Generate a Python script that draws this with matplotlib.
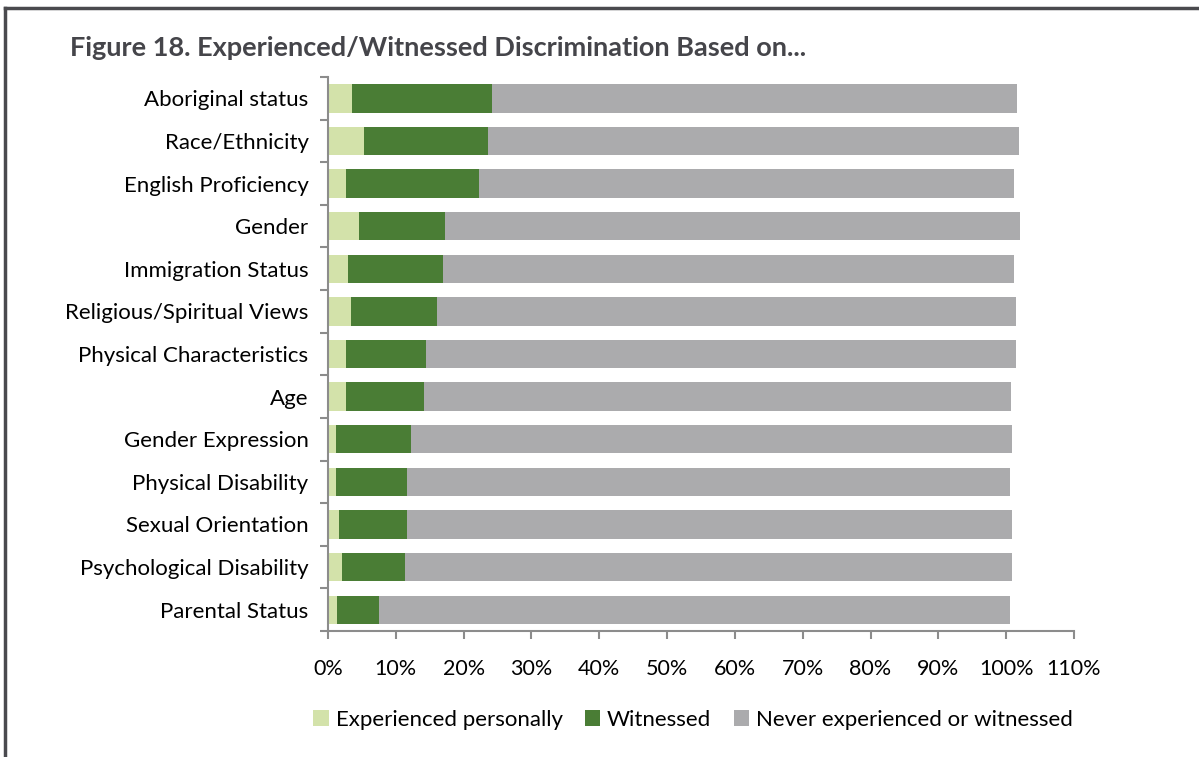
import numpy as np
import matplotlib
matplotlib.use('Agg')
import matplotlib.pyplot as plt
from matplotlib.lines import Line2D

plt.rcParams['font.family'] = ['Lato', 'DejaVu Sans']

# ── data (shares of respondents, stacked to the right) ──────────────────────
categories = ["Aboriginal status", "Race/Ethnicity", "English Proficiency",
              "Gender", "Immigration Status", "Religious/Spiritual Views",
              "Physical Characteristics", "Age", "Gender Expression",
              "Physical Disability", "Sexual Orientation",
              "Psychological Disability", "Parental Status"]
experienced = [3.5, 5.3, 2.7, 4.6, 3.0, 3.4, 2.6, 2.7, 1.1, 1.1, 1.6, 2.0, 1.3]
witnessed   = [20.7, 18.3, 19.6, 12.6, 13.9, 12.6, 11.8, 11.4, 11.2, 10.6, 10.1, 9.3, 6.2]
never       = [77.4, 78.3, 78.8, 84.9, 84.2, 85.5, 87.0, 86.6, 88.5, 88.8, 89.1, 89.5, 93.0]

series = [("Experienced personally", experienced, "#D3E2AA"),
          ("Witnessed", witnessed, "#4A7D35"),
          ("Never experienced or witnessed", never, "#ABABAD")]

# ── plot ─────────────────────────────────────────────────────────────────────
fig = plt.figure(figsize=(11.99, 7.57), dpi=100)
ax = fig.add_axes([0.2736, 0.1664, 0.6221, 0.7319])

y = np.arange(len(categories))[::-1]
left = np.zeros(len(categories))
for name, vals, col in series:
    v = np.array(vals) / 100
    ax.barh(y, v, left=left, height=0.667, color=col, label=name)
    left += v

ax.set_xlim(0, 1.1)
ax.set_ylim(-0.5, len(categories) - 0.5)
ax.set_xticks(np.arange(0, 1.11, 0.1))
ax.set_xticklabels([f"{int(round(t * 100))}%" for t in np.arange(0, 1.11, 0.1)],
                   fontsize=15.5)

# category boundaries get the tick marks, labels sit at centres
ax.set_yticks(np.arange(-0.5, len(categories), 1.0))
ax.set_yticklabels([])
ax.set_yticks(y, minor=True)
ax.set_yticklabels(categories, minor=True, fontsize=16)
ax.tick_params(axis='y', which='minor', length=0, pad=14)
ax.tick_params(axis='y', which='major', length=6, width=1.5, color='#8C8C8C')
ax.tick_params(axis='x', length=6, width=1.5, color='#8C8C8C', pad=14)

for s in ['top', 'right']:
    ax.spines[s].set_visible(False)
for s in ['left', 'bottom']:
    ax.spines[s].set_color('#8C8C8C')
    ax.spines[s].set_linewidth(1.5)

fig.text(0.058, 0.937, "Figure 18. Experienced/Witnessed Discrimination Based on...",
         fontsize=19.5, fontweight='bold', color='#45454A', va='center')

fig.legend(loc='center', bbox_to_anchor=(0.578, 0.049), ncol=3, frameon=False,
           fontsize=16, handlelength=0.7, handleheight=0.7, handletextpad=0.3,
           columnspacing=1.0)

# frame around the figure (top and left edges)
fig.add_artist(Line2D([0.0045, 1.0], [0.9895, 0.9895], color='#4A4A4E', lw=2.5,
                      transform=fig.transFigure))
fig.add_artist(Line2D([0.0045, 0.0045], [0.0, 0.9895], color='#4A4A4E', lw=2.5,
                      transform=fig.transFigure))

plt.savefig("out.png", dpi=100)
plt.close()
